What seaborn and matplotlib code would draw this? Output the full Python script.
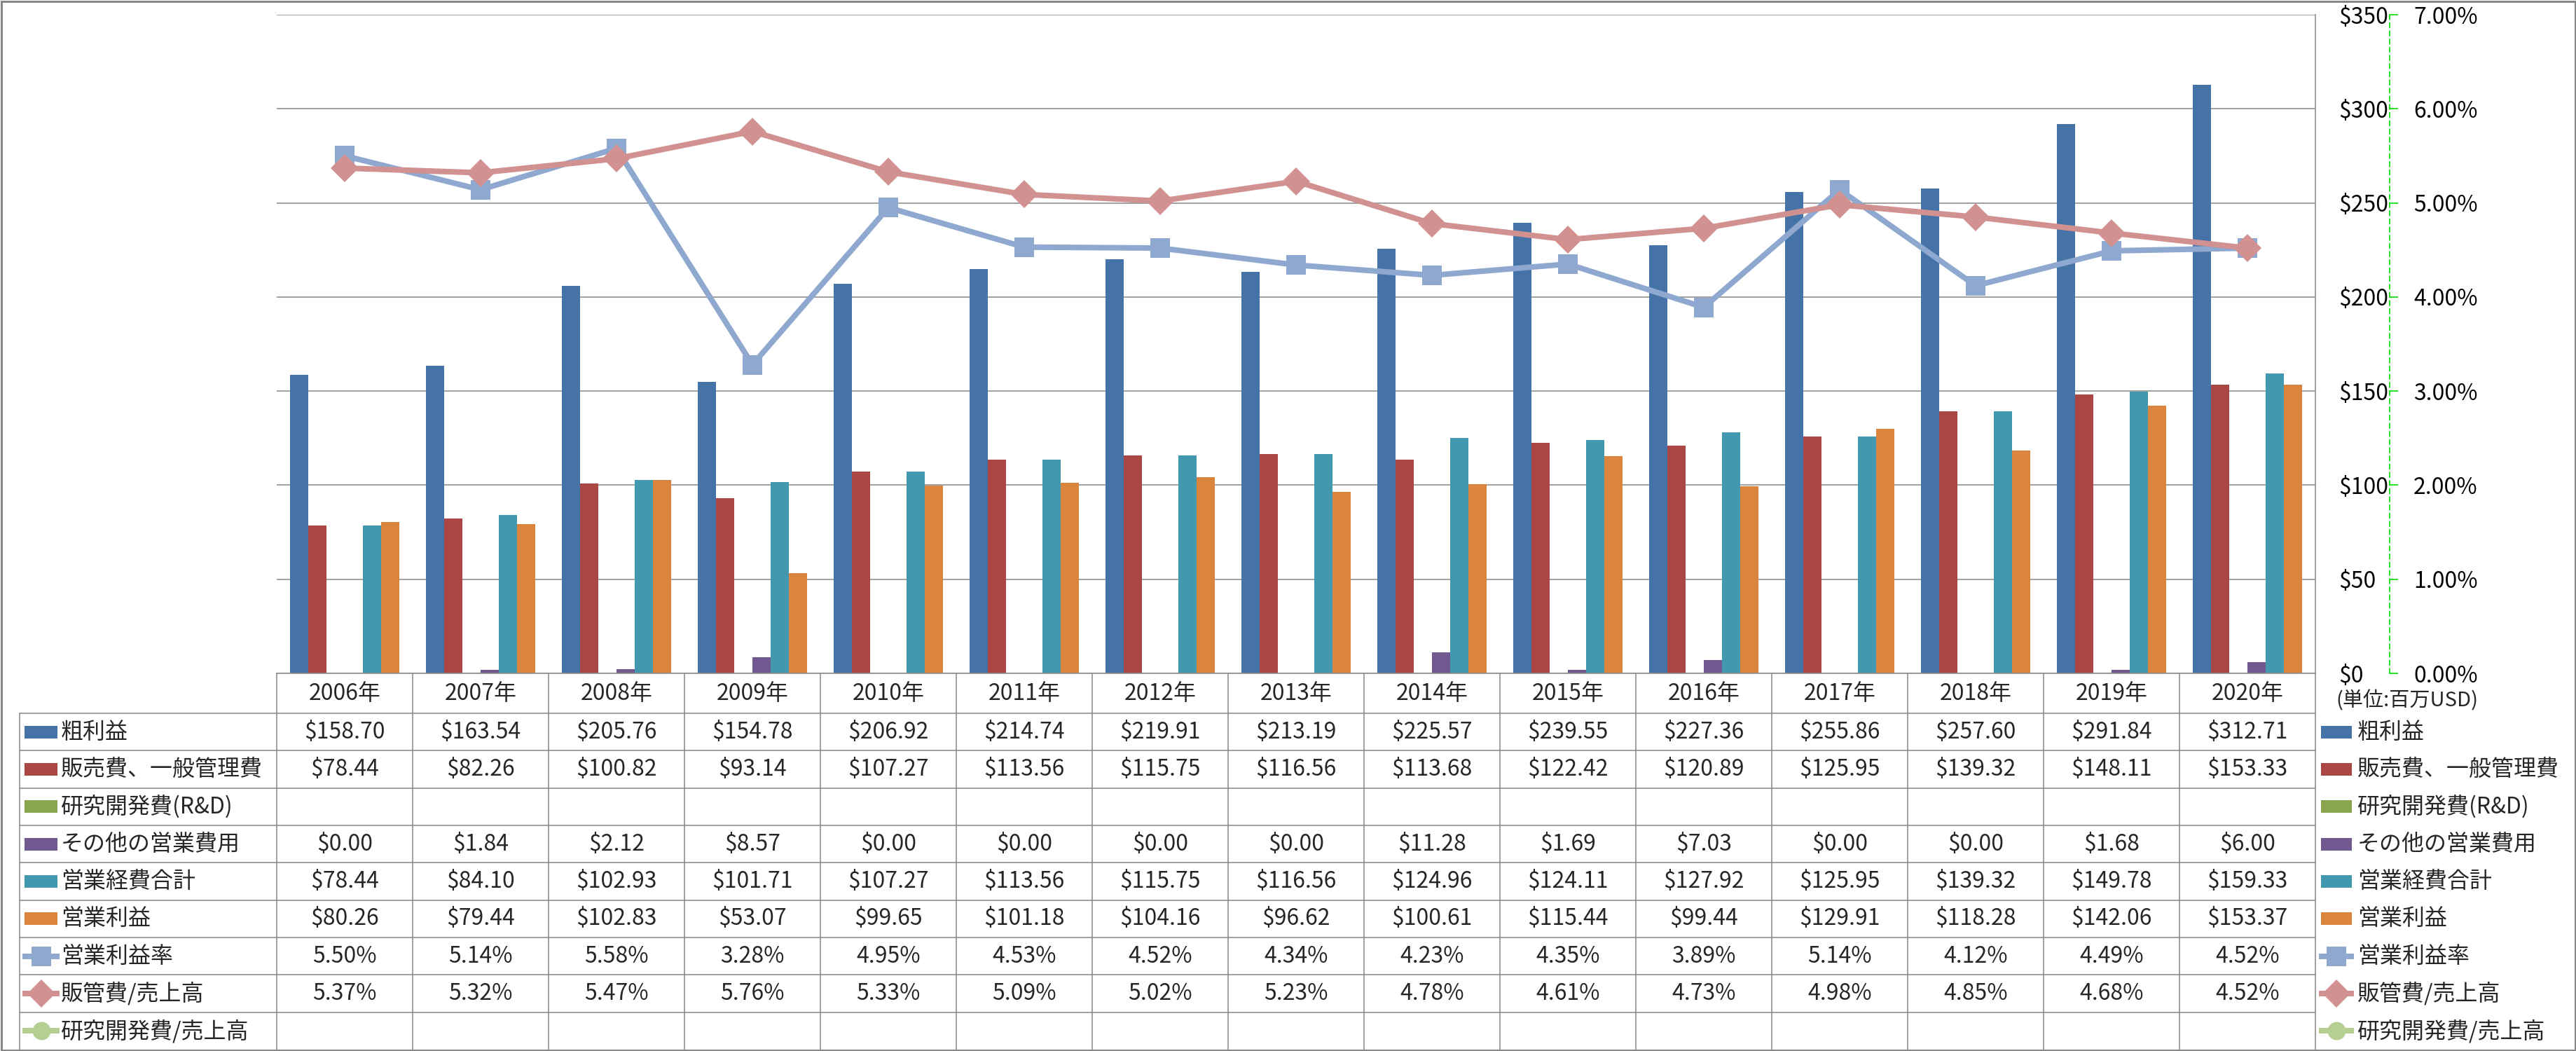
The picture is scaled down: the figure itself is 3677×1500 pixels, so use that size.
import numpy as np
import pandas as pd
import matplotlib
matplotlib.use("Agg")
import matplotlib.pyplot as plt
import seaborn as sns
from matplotlib.patches import Rectangle

sns.set_theme(style="white")
plt.rcParams['font.family'] = ['Noto Sans CJK JP', 'DejaVu Sans']

# --- DATA ---
years = [f"{y}年" for y in range(2006, 2021)]
gross = [158.70, 163.54, 205.76, 154.78, 206.92, 214.74, 219.91, 213.19,
         225.57, 239.55, 227.36, 255.86, 257.60, 291.84, 312.71]
sga = [78.44, 82.26, 100.82, 93.14, 107.27, 113.56, 115.75, 116.56,
       113.68, 122.42, 120.89, 125.95, 139.32, 148.11, 153.33]
rnd = [np.nan] * 15
other = [0.00, 1.84, 2.12, 8.57, 0.00, 0.00, 0.00, 0.00,
         11.28, 1.69, 7.03, 0.00, 0.00, 1.68, 6.00]
opex = [78.44, 84.10, 102.93, 101.71, 107.27, 113.56, 115.75, 116.56,
        124.96, 124.11, 127.92, 125.95, 139.32, 149.78, 159.33]
op_income = [80.26, 79.44, 102.83, 53.07, 99.65, 101.18, 104.16, 96.62,
             100.61, 115.44, 99.44, 129.91, 118.28, 142.06, 153.37]
op_margin = [5.50, 5.14, 5.58, 3.28, 4.95, 4.53, 4.52, 4.34,
             4.23, 4.35, 3.89, 5.14, 4.12, 4.49, 4.52]
sga_ratio = [5.37, 5.32, 5.47, 5.76, 5.33, 5.09, 5.02, 5.23,
             4.78, 4.61, 4.73, 4.98, 4.85, 4.68, 4.52]
rnd_ratio = [np.nan] * 15

bar_names = ["粗利益", "販売費、一般管理費", "研究開発費(R&D)", "その他の営業費用", "営業経費合計", "営業利益"]
bar_values = [gross, sga, rnd, other, opex, op_income]
bar_colors = ["#4572A7", "#AA4643", "#89A54E", "#71588F", "#4198AF", "#DB843D"]
line_names = ["営業利益率", "販管費/売上高", "研究開発費/売上高"]
line_values = [op_margin, sga_ratio, rnd_ratio]
line_colors = ["#8EA8CF", "#D09190", "#B5CF93"]
line_markers = ["s", "D", "o"]

df = pd.DataFrame({"year": years, **dict(zip(bar_names, bar_values))})
long = df.melt(id_vars="year", var_name="series", value_name="value")

# --- LAYOUT (pixels) ---
W, H = 3677, 1500
L, R, T, B = 395, 3305, 21, 961
fig = plt.figure(figsize=(W / 100, H / 100), dpi=100)
px = 72 / 100  # pixel -> point
grid_c = "#8C8C8C"
FS = 23
MSIZE = {"s": 28, "D": 28, "o": 26}

ax = fig.add_axes([L / W, 1 - B / H, (R - L) / W, (B - T) / H])
ax.set_axisbelow(True)
sns.barplot(data=long, x="year", y="value", hue="series", hue_order=bar_names,
            order=years, palette=bar_colors, saturation=1, width=0.8,
            errorbar=None, legend=False, linewidth=0, ax=ax)
ax.set_xlim(-0.5, 14.5)
ax.set_ylim(0, 350)
ax.set_xlabel("")
ax.set_ylabel("")
ax.yaxis.grid(True, color=grid_c, linewidth=1.6 * px)
for s in ["left", "top"]:
    ax.spines[s].set_visible(False)
for s in ["right", "bottom"]:
    ax.spines[s].set_color(grid_c)
    ax.spines[s].set_linewidth(1.6 * px)
ax.set_facecolor("none")

# --- secondary axis: ratios ---
ax2 = ax.twinx()
x = np.arange(len(years))
for name, vals, c, m in zip(line_names, line_values, line_colors, line_markers):
    if np.all(np.isnan(vals)):
        continue
    sns.lineplot(x=x, y=vals, ax=ax2, color=c, marker=m,
                 markersize=MSIZE[m] * px, markeredgecolor=c,
                 markeredgewidth=0, linewidth=8 * px)
ax2.set_xlim(-0.5, 14.5)
ax2.set_ylim(0, 7)
ax2.set_yticks(range(0, 8))
ax2.set_yticklabels([f"{v:.2f}%" for v in range(0, 8)])
ax2.set_xlabel("")
ax2.set_ylabel("")
for s in ["left", "top", "bottom"]:
    ax2.spines[s].set_visible(False)
ax2.spines["right"].set_position(("axes", (3411 - L) / (R - L)))
ax2.spines["right"].set_color("#00DD00")
ax2.spines["right"].set_linestyle((0, (4, 3)))
ax2.spines["right"].set_linewidth(1.2)
ax2.tick_params(axis="y", direction="out", length=12 * px, width=1.2,
                color="#00DD00", pad=22 * px, labelsize=FS, labelcolor="black")

# primary value labels sit right of the plot (after twinx, which moves them left)
ax.yaxis.tick_right()
ax.set_yticks(range(0, 351, 50))
ax.set_yticklabels([f"${v}" for v in range(0, 351, 50)])
ax.tick_params(axis="y", length=0, pad=33 * px, labelsize=FS, colors="black",
               labelleft=False, labelright=True)
ax.tick_params(axis="x", length=0, labelbottom=False)

# --- overlay: data table, legend, frame ---
ov = fig.add_axes([0, 0, 1, 1], facecolor="none")
ov.set_xlim(0, W)
ov.set_ylim(H, 0)
ov.axis("off")

cw = (R - L) / len(years)
centers = L + (np.arange(len(years)) + 0.5) * cw
row_top, row_bot = 1018, 1498
rh = (row_bot - row_top) / 9

for cx, yl in zip(centers, years):
    ov.text(cx, (B + row_top) / 2, yl, ha="center", va="center", fontsize=FS)

for k in range(9):
    yy = row_top + k * rh
    ov.plot([28, R], [yy, yy], color=grid_c, lw=1.6 * px)
ov.plot([28, 28], [row_top, row_bot], color=grid_c, lw=1.6 * px)
for k in range(len(years) + 1):
    xx = L + k * cw
    ov.plot([xx, xx], [B, row_bot], color=grid_c, lw=1.6 * px)

rows = [(n, v, c, None) for n, v, c in zip(bar_names, bar_values, bar_colors)] + \
       [(n, v, c, m) for n, v, c, m in zip(line_names, line_values, line_colors, line_markers)]


def legend_key(x0, x1, yc, color, marker):
    if marker is None:
        ov.add_patch(Rectangle((x0, yc - 9), x1 - x0, 18, color=color, lw=0))
    else:
        ov.plot([x0 - 3, x1 + 3], [yc, yc], color=color, lw=8 * px, solid_capstyle="butt")
        ov.plot([(x0 + x1) / 2], [yc], marker=marker, color=color,
                markersize=MSIZE[marker] * px, markeredgewidth=0)


for i, (name, vals, color, marker) in enumerate(rows):
    yc = row_top + (i + 0.5) * rh
    legend_key(35, 82, yc, color, marker)
    ov.text(87, yc, name, ha="left", va="center", fontsize=FS)
    legend_key(3313, 3357, yc, color, marker)
    ov.text(3365, yc, name, ha="left", va="center", fontsize=FS)
    for cx, v in zip(centers, vals):
        if np.isnan(v):
            continue
        label = f"{v:.2f}%" if marker is not None else f"${v:.2f}"
        ov.text(cx, yc, label, ha="center", va="center", fontsize=FS)

ov.text(3334, 1000, "(単位:百万USD)", ha="left", va="center", fontsize=21)

ov.add_patch(Rectangle((1.5, 1.5), W - 3, H - 3, fill=False, edgecolor="#868686", lw=3 * px))

fig.savefig("out.png", dpi=100)
